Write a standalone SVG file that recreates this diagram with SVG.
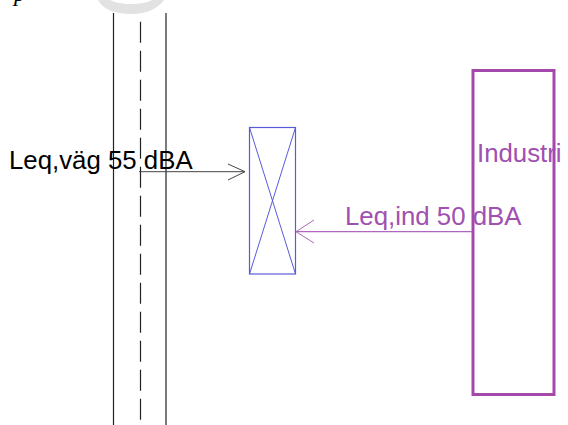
<svg xmlns="http://www.w3.org/2000/svg" width="568" height="425" viewBox="0 0 568 425">
<style>
.lbl{font-family:"Liberation Sans",Arial,sans-serif;font-size:25.8px}
.road{stroke:#222;stroke-width:1.2;fill:none}
</style>
<rect width="568" height="425" fill="#fff"/>
<g id="watermark">
<path d="M98,0 C103,9 114,14 131,14 C148,14 158,8 164,0 L152,0 C146,3 139,4 131,4 C121,4 114,2 110,0 Z" fill="#e2e2e2"/>
<text x="14" y="1" font-family="Liberation Serif,serif" font-style="italic" font-size="24px" fill="#000">p</text>
</g>
<g id="road">
<line class="road" x1="113.5" y1="13" x2="113.5" y2="425"/>
<line class="road" x1="166" y1="13" x2="166" y2="425"/>
<line class="road" x1="140.5" y1="21.7" x2="140.5" y2="425" stroke-dasharray="21 8"/>
</g>
<g id="receiver">
<rect x="249.5" y="127.5" width="46" height="146.5" fill="none" stroke="#5a5ad8" stroke-width="1.2"/>
<line x1="249.5" y1="127.5" x2="295.5" y2="274" stroke="#5a5ad8" stroke-width="1"/>
<line x1="295.5" y1="127.5" x2="249.5" y2="274" stroke="#5a5ad8" stroke-width="1"/>
</g>
<g id="industri">
<rect x="473" y="70.5" width="81" height="324" fill="none" stroke="#a548ab" stroke-width="3"/>
<text class="lbl" x="477" y="162" fill="#a050b0">Industri</text>
</g>
<g id="connectors">
<polyline points="139,171.7 245,171.7" fill="none" stroke="#444" stroke-width="1"/>
<polyline points="228,164 245,171.7 228,180" fill="none" stroke="#444" stroke-width="1"/>
<polyline points="472,231.7 296,231.7" fill="none" stroke="#b066c0" stroke-width="1.2"/>
<polyline points="314,220 296,231.7 314,243" fill="none" stroke="#b066c0" stroke-width="1"/>
</g>
<g id="labels">
<text class="lbl" x="9" y="169" fill="#000">Leq,väg 55 dBA</text>
<text class="lbl" x="345" y="225" fill="#a050b0">Leq,ind 50 dBA</text>
</g>
</svg>
